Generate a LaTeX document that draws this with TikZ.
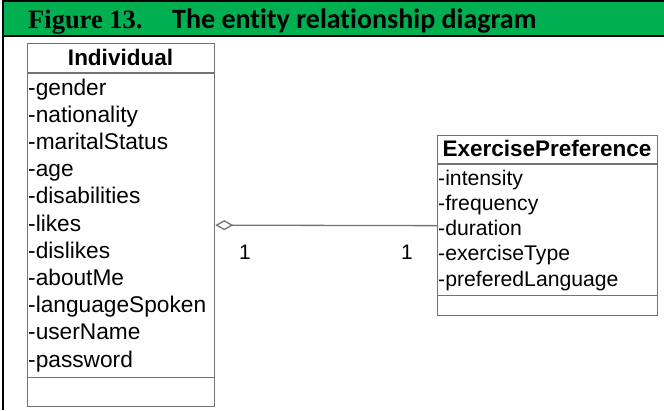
\documentclass[tikz,border=0pt]{standalone}
\usepackage{fontspec}
\setmainfont{Liberation Sans}
\newfontfamily\captionserif{Liberation Serif}
\newfontfamily\captionsans[Ligatures=NoCommon]{Carlito}
\usetikzlibrary{arrows.meta}

\definecolor{titlegreen}{RGB}{0,176,80}
\definecolor{umlgray}{RGB}{115,115,115}

\begin{document}
\begin{tikzpicture}[x=1pt,y=-1pt,
  classbox/.style={draw=umlgray, line width=1.3pt, fill=white, inner sep=0pt, anchor=north west},
  divider/.style={draw=umlgray, line width=1.3pt},
  classname/.style={anchor=base, inner sep=0pt, font=\bfseries\fontsize{22.5}{26}\selectfont},
  attrbig/.style={anchor=base west, inner sep=0pt, font=\fontsize{22.7}{26}\selectfont},
  attrsmall/.style={anchor=base west, inner sep=0pt, font=\fontsize{21.2}{24}\selectfont},
  mult/.style={anchor=base, inner sep=0pt, font=\fontsize{21}{24}\selectfont},
  aggregation/.style={draw=umlgray, line width=1.3pt, {Diamond[open, length=18pt, width=10pt]}-},
  frameline/.style={draw=black}
]
\useasboundingbox (0,0) rectangle (664,410);

% caption bar with its frame
\fill[titlegreen] (3,1) rectangle (664,35);
\draw[frameline, line width=1.5pt] (2,0.75) -- (664,0.75);
\draw[frameline, line width=2pt] (2,36) -- (664,36);
\draw[frameline, line width=1.5pt] (2.75,0) -- (2.75,410);
\node[anchor=base west, inner sep=0pt, font=\captionserif\bfseries\fontsize{26.5}{30}\selectfont] (fignum) at (28,28) {Figure 13.};
\node[anchor=base west, inner sep=0pt, font=\captionsans\bfseries\fontsize{28}{30}\selectfont] (figtitle) at (172,28) {The entity relationship diagram};

% class Individual
\node[classbox, minimum width=187pt, minimum height=363pt] (ind) at (27,43) {};
\draw[divider] ([yshift=-30pt]ind.north west) -- ([yshift=-30pt]ind.north east);
\draw[divider] ([yshift=30pt]ind.south west) -- ([yshift=30pt]ind.south east);
\node[classname] (indname) at (120.5,65) {Individual};
\foreach \a [count=\i from 0] in {gender,nationality,maritalStatus,age,disabilities,likes,dislikes,aboutMe,languageSpoken,userName,password}
  \node[attrbig] (ind-\i) at (28,95+27.2*\i) {-\a};

% class ExercisePreference
\node[classbox, minimum width=220pt, minimum height=180pt] (ep) at (437,135) {};
\draw[divider] ([yshift=-29pt]ep.north west) -- ([yshift=-29pt]ep.north east);
\draw[divider] ([yshift=21pt]ep.south west) -- ([yshift=21pt]ep.south east);
\node[classname] (epname) at (547,156) {ExercisePreference};
\foreach \a [count=\i from 0] in {intensity,frequency,duration,exerciseType,preferedLanguage}
  \node[attrsmall] (ep-\i) at (438,185+25.25*\i) {-\a};

% aggregation between the classes
\draw[aggregation] (ind.east) -- (ep.west);
\node[mult] (multind) at (245,259) {1};
\node[mult] (multep) at (407,259) {1};
\end{tikzpicture}
\end{document}
